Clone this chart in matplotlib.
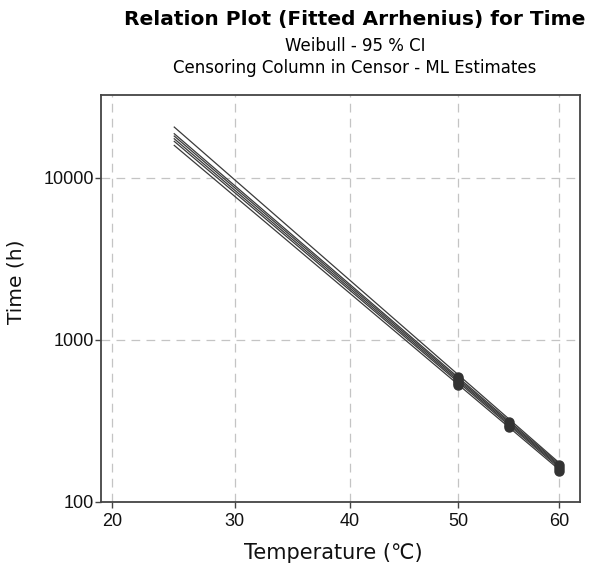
import matplotlib
matplotlib.use("Agg")
import matplotlib.pyplot as plt
import numpy as np
from matplotlib.ticker import FixedLocator, FixedFormatter, NullLocator

# ---- data ----
line_temps = [25, 60]
line_start = [20600, 18750, 18130, 17450, 16820, 15880]   # fitted time at 25 C
line_end = [174, 171, 168, 165, 162, 158]                  # fitted time at 60 C

pt_temps_50 = [50, 50, 50, 50, 50]
pt_vals_50 = [530, 545, 560, 575, 590]
pt_temps_55 = [55, 55, 55]
pt_vals_55 = [290, 300, 312]
pt_temps_60 = [60, 60, 60]
pt_vals_60 = [155, 162, 169]

xticks = [20, 30, 40, 50, 60]
yticks = [100, 1000, 10000]
ytick_labels = ["100", "1000", "10000"]

title = "Relation Plot (Fitted Arrhenius) for Time"
sub1 = "Weibull - 95 % CI"
sub2 = "Censoring Column in Censor - ML Estimates"

# ---- figure ----
fig = plt.figure(figsize=(5.96, 5.72), dpi=100)
ax = fig.add_axes([101/596, 1-502/572, (580-101)/596, (502-95)/572])

def fwd(t):
    t = np.asarray(t, dtype=float)
    return -1.0 / (t + 273.15)

def inv(v):
    v = np.asarray(v, dtype=float)
    return -1.0 / v - 273.15

ax.set_xscale('function', functions=(fwd, inv))
ax.set_yscale('log')

line_color = '#3a3a3a'
for s, e in zip(line_start, line_end):
    ax.plot(line_temps, [s, e], color=line_color, lw=0.9, zorder=3)

for tt, vv in [(pt_temps_50, pt_vals_50), (pt_temps_55, pt_vals_55), (pt_temps_60, pt_vals_60)]:
    ax.plot(tt, vv, linestyle='none', marker='o', markersize=6.5,
            color='#333333', markeredgecolor='#333333', zorder=4)

ax.set_xlim(19.16, 62.1)
ax.set_ylim(100, 32500)

ax.xaxis.set_major_locator(FixedLocator(xticks))
ax.xaxis.set_major_formatter(FixedFormatter([str(x) for x in xticks]))
ax.xaxis.set_minor_locator(NullLocator())
ax.yaxis.set_major_locator(FixedLocator(yticks))
ax.yaxis.set_major_formatter(FixedFormatter(ytick_labels))
ax.yaxis.set_minor_locator(NullLocator())

ax.grid(True, which='major', color='#c4c4c4', linestyle=(0, (7, 5)), linewidth=0.9)
ax.set_axisbelow(True)

for sp in ax.spines.values():
    sp.set_color('#444444')
    sp.set_linewidth(1.3)

tickfont = ['Liberation Sans', 'DejaVu Sans']
ax.tick_params(axis='both', direction='out', length=4, width=1, color='#444444',
               labelsize=13, top=False, right=False)
ax.tick_params(axis='y', pad=1)
ax.tick_params(axis='x', pad=4)
for lab in ax.get_xticklabels() + ax.get_yticklabels():
    lab.set_family(tickfont)
    lab.set_color('#111111')

ax.set_ylabel("Time (h)", fontsize=14.5, family=['DejaVu Sans'], color='#111111')
ax.yaxis.set_label_coords(-0.1566, 0.542)
ax.set_xlabel("Temperature (℃)", fontsize=15, family=['DejaVu Sans', 'Noto Sans CJK SC'],
              color='#111111')
ax.xaxis.set_label_coords((333 - 101) / 479, (502 - 553) / 407)
ax.xaxis.label.set_va('center')

cx = 355/596
fig.text(cx, 1-20/572, title, ha='center', va='center', fontsize=14.5,
         fontweight='heavy', family='DejaVu Sans')
fig.text(cx, 1-46/572, sub1, ha='center', va='center', fontsize=12, family='DejaVu Sans')
fig.text(cx, 1-68/572, sub2, ha='center', va='center', fontsize=12, family='DejaVu Sans')

fig.savefig("out.png", dpi=100)
